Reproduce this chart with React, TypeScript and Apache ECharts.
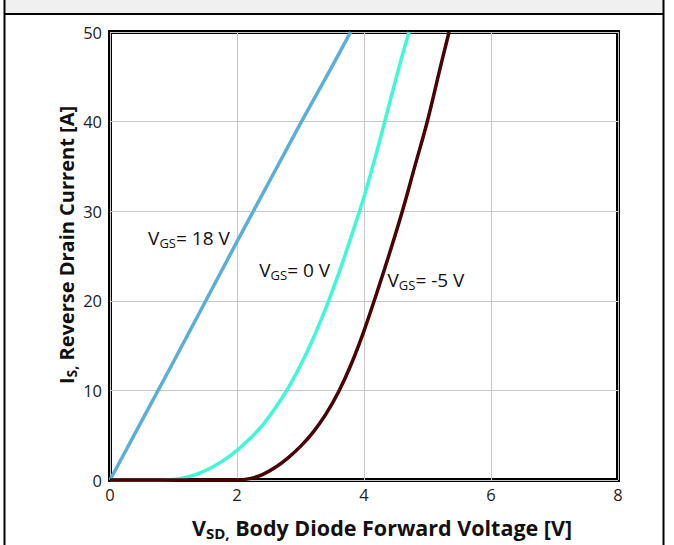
import React, { useEffect, useRef } from "react";
import * as echarts from "echarts";

const xTicks = [0, 2, 4, 6, 8];
const yTicks = [0, 10, 20, 30, 40, 50];

const vgs18: [number, number][] = [
  [0, 0], [0.5, 6.6], [1.0, 13.2], [1.5, 19.9], [2.0, 26.6], [2.5, 33.2], [3.0, 39.8], [3.5, 46.2], [3.79, 50],
];
const vgs0: [number, number][] = [
  [0, 0], [0.4, 0], [0.8, 0], [1.0, 0.05], [1.2, 0.3], [1.4, 0.75], [1.6, 1.4], [1.8, 2.25], [2.0, 3.3],
  [2.2, 4.6], [2.4, 6.1], [2.6, 8.0], [2.8, 10.2], [3.0, 12.8], [3.2, 15.8], [3.4, 19.2], [3.6, 23.0],
  [3.8, 27.2], [4.0, 31.6], [4.2, 36.6], [4.4, 42.0], [4.6, 47.3], [4.71, 50],
];
const vgsM5: [number, number][] = [
  [0, 0], [0.5, 0], [1.0, 0], [1.5, 0], [2.0, 0], [2.2, 0.15], [2.4, 0.6], [2.6, 1.4], [2.8, 2.45],
  [3.0, 3.75], [3.2, 5.35], [3.4, 7.35], [3.6, 9.85], [3.8, 12.95], [4.0, 16.65], [4.2, 20.85], [4.4, 25.25],
  [4.6, 29.9], [4.8, 35.0], [5.0, 40.1], [5.2, 46.0], [5.34, 50],
];

const seriesNames = ["VGS=18V", "VGS=0V", "VGS=-5V"];
const seriesColors = ["#5aafd8", "#3ff8d8", "#4a0204"];
const seriesData = [vgs18, vgs0, vgsM5];

// annotation labels: [value text, data x, data y]
const annotations: [string, number, number][] = [
  ["18 V", 0.6, 27.0],
  ["0 V", 2.35, 23.4],
  ["-5 V", 4.37, 22.3],
];

const FONT = "'Open Sans', 'Noto Sans', sans-serif";

export default function App() {
  const ref = useRef<HTMLDivElement>(null);
  useEffect(() => {
    if (!ref.current) return;
    const chart = echarts.init(ref.current, null, { renderer: "svg" });
    const option: any = {
      animation: false,
      textStyle: { fontFamily: FONT },
      grid: {
        left: 110, right: 56, top: 32, bottom: 65,
        show: true, borderColor: "#000", borderWidth: 4, backgroundColor: "transparent",
      },
      xAxis: {
        type: "value", min: xTicks[0], max: xTicks[xTicks.length - 1], interval: 2,
        axisLine: { show: false }, axisTick: { show: false },
        axisLabel: { fontSize: 16.5, color: "#222", margin: 6, fontFamily: FONT },
        splitLine: { show: true, lineStyle: { color: "#c8c8c8", width: 1 } },
      },
      yAxis: {
        type: "value", min: yTicks[0], max: yTicks[yTicks.length - 1], interval: 10,
        axisLine: { show: false }, axisTick: { show: false },
        axisLabel: { fontSize: 16.5, color: "#222", margin: 8, fontFamily: FONT, padding: [0, 0, 6, 0] },
        splitLine: { show: true, lineStyle: { color: "#c8c8c8", width: 1 } },
      },
      series: seriesData.map((d, i) => ({
        name: seriesNames[i], type: "line", data: d, showSymbol: false, symbol: "none",
        smooth: i === 0 ? false : 0.4, clip: false, z: 3,
        lineStyle: { color: seriesColors[i], width: 3.5 },
      })),
    };
    chart.setOption(option);

    const graphics: any[] = [
      { type: "rect", shape: { x: 4, y: 0, width: 660, height: 14 }, style: { fill: "#f0f0f0" }, silent: true },
      { type: "line", shape: { x1: 4, y1: 14, x2: 664, y2: 14 }, style: { stroke: "#000", lineWidth: 2 } },
      { type: "line", shape: { x1: 4.5, y1: 0, x2: 4.5, y2: 545 }, style: { stroke: "#000", lineWidth: 2 } },
      { type: "line", shape: { x1: 663.5, y1: 0, x2: 663.5, y2: 545 }, style: { stroke: "#000", lineWidth: 2 } },
      {
        type: "text", x: 382, y: 527,
        style: {
          text: "{b|V}{s|SD,}{b| Body Diode Forward Voltage [V]}",
          align: "center", verticalAlign: "middle",
          rich: {
            b: { fontSize: 21.5, fontWeight: "bold", fill: "#111", fontFamily: FONT },
            s: { fontSize: 15, fontWeight: "bold", fill: "#111", fontFamily: FONT, padding: [11, 0, 0, 0] },
          },
        },
      },
      {
        type: "text", x: 66, y: 245, rotation: Math.PI / 2,
        style: {
          text: "{b|I}{s|S,}{b| Reverse Drain Current [A]}",
          align: "center", verticalAlign: "middle",
          rich: {
            b: { fontSize: 20, fontWeight: "bold", fill: "#111", fontFamily: FONT },
            s: { fontSize: 14, fontWeight: "bold", fill: "#111", fontFamily: FONT, padding: [10, 0, 0, 0] },
          },
        },
      },
    ];
    annotations.forEach(([t, dx, dy]) => {
      const p = chart.convertToPixel({ gridIndex: 0 }, [dx, dy]) as number[];
      graphics.push({
        type: "text", x: p[0], y: p[1],
        style: {
          text: "{v|V}{s|GS}{v|= " + t + "}",
          align: "left", verticalAlign: "middle",
          rich: {
            v: { fontSize: 19, fill: "#111", fontFamily: FONT },
            s: { fontSize: 13, fill: "#111", fontFamily: FONT, padding: [9, 0, 0, 0] },
          },
        },
      });
    });
    chart.setOption({ graphic: graphics });
    return () => chart.dispose();
  }, []);
  return (
    <div style={{ position: "absolute", left: 0, top: 0, width: 674, height: 545, background: "#fff" }}>
      <div ref={ref} style={{ width: 674, height: 545 }} />
    </div>
  );
}
